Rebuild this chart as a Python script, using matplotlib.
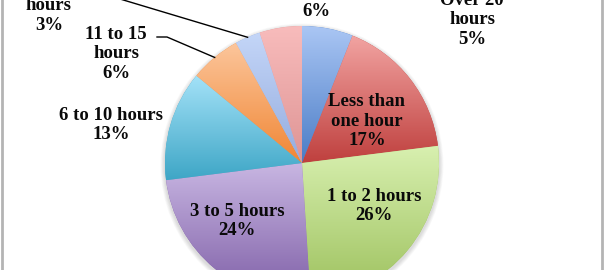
import numpy as np
import matplotlib.pyplot as plt
from matplotlib.colors import to_rgb
from matplotlib.patches import Circle


categories = ["None", "Less than\none hour", "1 to 2 hours", "3 to 5 hours",
              "6 to 10 hours", "11 to 15\nhours", "16 to 20\nhours", "Over 20\nhours"]
shares = [6, 17, 26, 24, 13, 6, 3, 5]

# gradient colours per slice: light (top) -> dark (bottom)
top_colors = ["#aac6f4", "#f2a4a2", "#d8f0b0", "#c8b6e2", "#a4e2f8", "#fcc69c", "#c4d6f8", "#f8bcbc"]
bottom_colors = ["#4a7cc6", "#bf403e", "#9cc05c", "#7e5ea6", "#3ea6c6", "#f08634", "#94acde", "#de9494"]

# label centres in pixel coords (y grows downward)
label_pos = [(316, 2), (367, 121), (374, 206), (237, 221),
             (111, 125), (116, 54), (49, 6), (472, 20)]

cx, cy, r = 302, 163, 137

fig = plt.figure(figsize=(6.04, 2.70), dpi=100)
ax = fig.add_axes([0, 0, 1, 1])

# soft shadow behind the pie
for k in range(6):
    ax.add_patch(Circle((cx, cy + 2), r + 1 + k * 0.7, color="black", alpha=0.025, lw=0, zorder=0))

# y axis is inverted below, so counterclockwise in data = clockwise on screen
wedges, _ = ax.pie(shares, colors=bottom_colors, startangle=-90, counterclock=True,
                   center=(cx, cy), radius=r, frame=True,
                   wedgeprops=dict(linewidth=0))

for w, c0, c1 in zip(wedges, top_colors, bottom_colors):
    bb = w.get_path().get_extents()
    t = np.linspace(0, 1, 200)[:, None]
    grad = (1 - t) * np.array(to_rgb(c0)) + t * np.array(to_rgb(c1))
    im = ax.imshow(grad[:, None, :], extent=(bb.x0, bb.x1, bb.y0, bb.y1), origin="lower",
                   aspect="auto", interpolation="bilinear", zorder=2)
    im.set_clip_path(w)

for name, v, (x, y) in zip(categories, shares, label_pos):
    ax.text(x, y, f"{name}\n{v}%", ha="center", va="center", fontsize=13.5,
            fontweight="bold", family="Liberation Serif", color="#0a0a0a",
            linespacing=1.22, zorder=5)

# leader lines to the small slices
def edge_point(w):
    mid = np.deg2rad((w.theta1 + w.theta2) / 2)
    return cx + r * np.cos(mid), cy + r * np.sin(mid)

ex, ey = edge_point(wedges[5])
ax.plot([157, 167, ex], [37, 37, ey], color="black", lw=1, zorder=4)
ex, ey = edge_point(wedges[6])
ax.plot([90, 100, ex], [-7, -7, ey], color="black", lw=1, zorder=4)

# frame lines at left and right edges
ax.axvline(1.5, color="#b4b4b4", lw=2)
ax.axvline(602, color="#b4b4b4", lw=2)

ax.set_xlim(0, 604)
ax.set_ylim(270, 0)
ax.set_aspect("auto")
ax.axis("off")

fig.savefig("out.png", dpi=100)
